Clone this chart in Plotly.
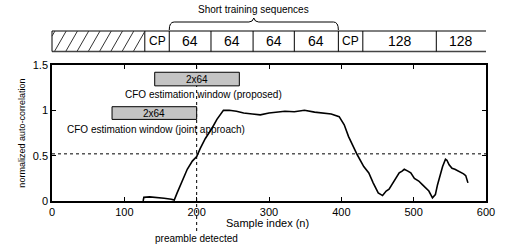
import plotly.graph_objects as go

# ---------------- data ----------------
sample_index = [126, 127, 135, 145, 155, 165, 169, 173, 180, 187, 194, 200, 205, 212, 221, 228,
                237, 245, 255, 265, 277, 288, 300, 311, 322, 335, 349, 363, 375, 386, 397, 404,
                410, 415, 422, 431, 438, 444, 451, 457, 462, 466, 471, 476, 480, 484, 487, 492,
                496, 501, 507, 512, 517, 521, 526, 530, 533, 537, 540, 544, 546, 549, 553, 557,
                562, 565, 569, 572, 575]
auto_corr = [0.0, 0.04, 0.045, 0.04, 0.03, 0.02, 0.01, 0.09, 0.22, 0.35, 0.44, 0.49, 0.58, 0.69, 0.80, 0.90,
             1.0, 1.0, 0.99, 0.97, 0.96, 0.95, 0.97, 0.98, 0.99, 0.985, 1.0, 0.98, 0.97, 0.96, 0.93, 0.84,
             0.71, 0.62, 0.51, 0.38, 0.31, 0.20, 0.09, 0.06, 0.11, 0.13, 0.20, 0.27, 0.31, 0.33, 0.35, 0.33,
             0.31, 0.25, 0.22, 0.18, 0.14, 0.11, 0.035, 0.07, 0.18, 0.31, 0.38, 0.46, 0.45, 0.40, 0.36, 0.35,
             0.33, 0.31, 0.30, 0.28, 0.20]

threshold = 0.52
detect_index = 200

x_ticks = [0, 100, 200, 300, 400, 500, 600]
y_ticks = [0, 0.5, 1, 1.5]

# preamble structure (segment boundaries in sample units) and labels
seg_bounds = [0, 128.3, 162.1, 219.8, 278, 335, 395.9, 429.7, 531.3, 600]
seg_labels = ["", "CP", "64", "64", "64", "64", "CP", "128", "128"]

# CFO windows: (x start, x end, y low, y high, label, caption, caption x, caption y)
windows = [
    (142, 259, 1.27, 1.42, "2x64", "CFO estimation window (proposed)", 210, 1.17),
    (83, 200, 0.90, 1.04, "2x64", "CFO estimation window (joint approach)", 144, 0.79),
]

# ---------------- layout geometry (screen pixels) ----------------
W, H = 507, 248
L, R, T, B = 52, 495, 65, 201      # plot area in screen pixels
FONT = "Liberation Sans, Arial, Helvetica, sans-serif"


def pxx(px):
    return (px - L) / (R - L)


def pxy(py):
    return (B - py) / (B - T)


def sx(s):
    return s / 600.0


def txt(x, y, text, size, xref="paper", yref="paper", **kw):
    return dict(x=x, y=y, xref=xref, yref=yref, text=text, showarrow=False,
                xanchor="center", yanchor="middle",
                font=dict(size=size, color="black", family=FONT), **kw)


fig = go.Figure()
fig.add_trace(go.Scatter(x=sample_index, y=auto_corr, mode="lines",
                         line=dict(color="black", width=1.6), showlegend=False,
                         hoverinfo="skip"))

shapes = []
annotations = []

# threshold line
shapes.append(dict(type="line", xref="x", yref="y", x0=0, x1=600, y0=threshold, y1=threshold,
                   line=dict(color="black", width=1, dash="dot")))
# detection line
shapes.append(dict(type="line", xref="x", yref="paper", x0=detect_index, x1=detect_index,
                   y0=pxy(231), y1=1, line=dict(color="black", width=1, dash="dot")))

# CFO windows
for x0, x1, y0, y1, lab, cap, cx, cy in windows:
    shapes.append(dict(type="rect", xref="x", yref="y", x0=x0, x1=x1, y0=y0, y1=y1,
                       fillcolor="#c4c4c4", line=dict(color="black", width=1)))
    annotations.append(txt((x0 + x1) / 2, (y0 + y1) / 2, lab, 10, xref="x", yref="y"))
    annotations.append(txt(cx, cy, cap, 10, xref="x", yref="y"))

# preamble diagram
top_py, bot_py = 31, 51.5
ty, by = pxy(top_py), pxy(bot_py)
shapes.append(dict(type="line", xref="paper", yref="paper", x0=0, x1=1, y0=ty, y1=ty,
                   line=dict(color="black", width=1)))
shapes.append(dict(type="line", xref="paper", yref="paper", x0=0, x1=1, y0=by, y1=by,
                   line=dict(color="#444", width=1.6)))
for b in seg_bounds[:-1]:
    shapes.append(dict(type="line", xref="paper", yref="paper", x0=sx(b), x1=sx(b), y0=by, y1=ty,
                       line=dict(color="black", width=1)))
for i, lab in enumerate(seg_labels):
    if lab:
        annotations.append(txt(sx((seg_bounds[i] + seg_bounds[i + 1]) / 2), pxy(41.5), lab,
                               12 if lab == "CP" else 14))

# hatch in first segment
hx0 = L + sx(seg_bounds[0]) * (R - L)
hx1 = L + sx(seg_bounds[1]) * (R - L)
hh = bot_py - top_py
dx = 12
step = 11.5
xb = hx0 - dx + 3
while xb < hx1:
    xa, ya = xb, bot_py
    xc, yc = xb + dx, top_py
    if xa < hx0:
        t = (hx0 - xa) / dx
        xa, ya = hx0, bot_py - t * hh
    if xc > hx1:
        t = (xc - hx1) / dx
        xc, yc = hx1, top_py + t * hh
    if xc > xa:
        shapes.append(dict(type="line", xref="paper", yref="paper", x0=pxx(xa), y0=pxy(ya),
                           x1=pxx(xc), y1=pxy(yc), line=dict(color="#333", width=1)))
    xb += step

# brace over short training sequences
bl = L + sx(seg_bounds[2]) * (R - L)
br = L + sx(seg_bounds[6]) * (R - L)
bm = (bl + br) / 2
pts = "M {} {} Q {} {} {} {} L {} {} Q {} {} {} {} Q {} {} {} {} L {} {} Q {} {} {} {}".format(
    pxx(bl), pxy(30), pxx(bl), pxy(22), pxx(bl + 5), pxy(22),
    pxx(bm - 5), pxy(22), pxx(bm - 1), pxy(22), pxx(bm), pxy(18),
    pxx(bm + 1), pxy(22), pxx(bm + 5), pxy(22),
    pxx(br - 5), pxy(22), pxx(br), pxy(22), pxx(br), pxy(30))
shapes.append(dict(type="path", xref="paper", yref="paper", path=pts,
                   line=dict(color="black", width=1)))
annotations.append(txt(pxx(bm), pxy(9.5), "Short training sequences", 10))

# axis titles and extra text
annotations.append(txt(pxx(21), pxy(133), "normalized auto-correlation", 9, textangle=-90))
annotations.append(txt(pxx(272), pxy(222.5), "Sample index (n)", 11))
annotations.append(txt(detect_index, pxy(238), "preamble detected", 10, xref="x"))

axis_common = dict(showline=True, linecolor="black", linewidth=1.5, mirror="ticks",
                   ticks="inside", ticklen=4, tickcolor="black", showgrid=False, zeroline=False,
                   tickfont=dict(size=11, color="black", family=FONT))

fig.update_layout(
    width=W, height=H,
    margin=dict(l=L, r=W - R, t=T, b=H - B),
    plot_bgcolor="white", paper_bgcolor="white",
    xaxis=dict(range=[0, 600], tickvals=x_ticks, **axis_common),
    yaxis=dict(range=[0, 1.5], tickvals=y_ticks, **axis_common),
    shapes=shapes, annotations=annotations, showlegend=False,
    hovermode=False,
)

fig.write_html("out.html", config={"displayModeBar": False},
               post_script="document.body.style.margin='0';document.body.style.overflow='hidden';")
